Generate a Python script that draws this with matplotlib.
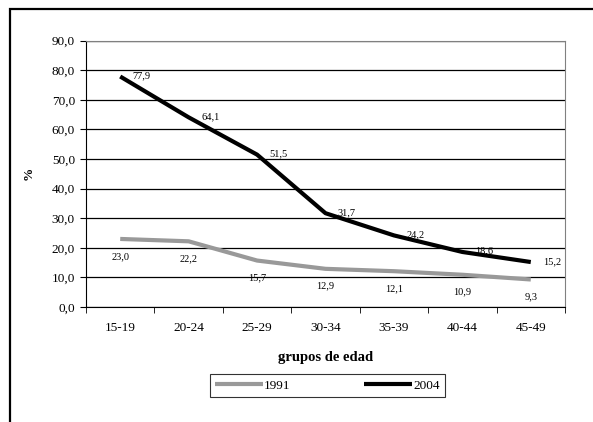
import matplotlib
matplotlib.use("Agg")
import matplotlib.pyplot as plt
from matplotlib.patches import Rectangle

plt.rcParams['font.family'] = ['Liberation Serif', 'DejaVu Serif']

categories = ["15-19", "20-24", "25-29", "30-34", "35-39", "40-44", "45-49"]
s1991 = [23.0, 22.2, 15.7, 12.9, 12.1, 10.9, 9.3]
s2004 = [77.9, 64.1, 51.5, 31.7, 24.2, 18.6, 15.2]
yticks = [0, 10, 20, 30, 40, 50, 60, 70, 80, 90]
ytick_labels = ["0,0", "10,0", "20,0", "30,0", "40,0", "50,0", "60,0", "70,0", "80,0", "90,0"]

fig = plt.figure(figsize=(5.93, 4.22), dpi=100)
# outer chart border
fig.patches.append(Rectangle((10/593, -0.1), 1.2, 1 - 9/422 + 0.1, transform=fig.transFigure,
                             fill=False, edgecolor='black', linewidth=1.6, zorder=0))

ax = fig.add_axes([86/593, 1 - 307/422, (565 - 86)/593, (307 - 40.7)/422])
x = list(range(len(categories)))

ax.set_ylim(0, 90)
ax.set_xlim(-0.5, len(categories) - 0.5)
ax.set_yticks(yticks)
ax.set_yticklabels(ytick_labels, fontsize=9.5)
ax.yaxis.grid(True, color='black', linewidth=0.9)
ax.set_axisbelow(True)

ax.set_xticks(x)
ax.set_xticklabels(categories, fontsize=9.5)
ax.set_xticks([i - 0.5 for i in range(len(categories) + 1)], minor=True)
ax.tick_params(axis='x', which='major', length=0, pad=11)
ax.tick_params(axis='x', which='minor', length=4, direction='out', color='black')
ax.tick_params(axis='y', length=4, direction='out', pad=4)

for s in ['top', 'right']:
    ax.spines[s].set_color('#808080')
for s in ['left', 'bottom']:
    ax.spines[s].set_color('black')

l1, = ax.plot(x, s1991, color='#999999', linewidth=3.0, solid_capstyle='butt',
              solid_joinstyle='round', label='1991')
l2, = ax.plot(x, s2004, color='black', linewidth=3.0, solid_capstyle='butt',
              solid_joinstyle='round', label='2004')

def fmt(v):
    return f"{v:.1f}".replace('.', ',')

for xi, v in zip(x, s2004):
    ax.annotate(fmt(v), (xi, v), xytext=(9, 0.5), textcoords='offset points',
                ha='left', va='center', fontsize=7.5)
for xi, v in zip(x, s1991):
    ax.annotate(fmt(v), (xi, v), xytext=(0, -12.5), textcoords='offset points',
                ha='center', va='center', fontsize=7.5)

ax.set_ylabel('%', fontsize=9.5, fontweight='bold', labelpad=12)
ax.set_xlabel('grupos de edad', fontsize=10.5, fontweight='bold', labelpad=12)

leg = fig.legend(handles=[l1, l2], loc='center', ncol=2,
                 bbox_to_anchor=((207 + 448) / 2 / 593, 1 - 385.5 / 422),
                 fontsize=9.5, frameon=True, fancybox=False, handlelength=3.6,
                 columnspacing=5.6, handletextpad=0.1, borderpad=0.4,
                 borderaxespad=0)
leg._legend_box.align = 'center'
leg.get_frame().set_edgecolor('black')
leg.get_frame().set_linewidth(0.8)

fig.canvas.draw()
# widen frame slightly by padding
leg.borderpad = 0.4

fig.savefig('out.png', dpi=100)
